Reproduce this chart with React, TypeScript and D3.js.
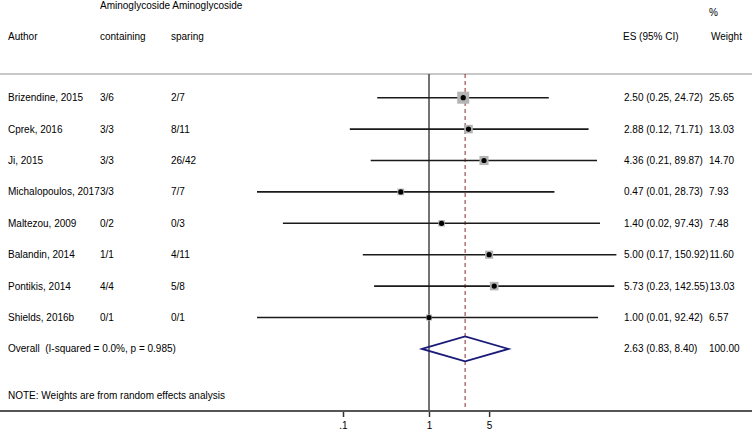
import React, { useEffect, useRef } from "react"
import * as d3 from "d3"

const authors = [
  "Brizendine, 2015",
  "Cprek, 2016",
  "Ji, 2015",
  "Michalopoulos, 2017",
  "Maltezou, 2009",
  "Balandin, 2014",
  "Pontikis, 2014",
  "Shields, 2016b",
]
const containing = ["3/6", "3/3", "3/3", "3/3", "0/2", "1/1", "4/4", "0/1"]
const sparing = ["2/7", "8/11", "26/42", "7/7", "0/3", "4/11", "5/8", "0/1"]
const es = [2.5, 2.88, 4.36, 0.47, 1.4, 5.0, 5.73, 1.0]
const lower = [0.25, 0.12, 0.21, 0.01, 0.02, 0.17, 0.23, 0.01]
const upper = [24.72, 71.71, 89.87, 28.73, 97.43, 150.92, 142.55, 92.42]
const weights = [25.65, 13.03, 14.7, 7.93, 7.48, 11.6, 13.03, 6.57]

const overall = { es: 2.63, lower: 0.83, upper: 8.4, weight: 100 }
const overallLabel = "Overall  (I-squared = 0.0%, p = 0.985)"
const note = "NOTE: Weights are from random effects analysis"

const tickValues = [0.1, 1, 5]
const tickLabels = [".1", "1", "5"]

const W = 753
const H = 432

const Chart = () => {
  const ref = useRef<SVGSVGElement>(null)

  useEffect(() => {
    const svg = d3.select(ref.current)
    svg.selectAll("*").remove()

    const font = "'Liberation Sans', Arial, sans-serif"
    const fs = 10
    const f2 = d3.format(".2f")

    // log scale for effect sizes
    const x = d3.scaleLog().domain([0.1, 10]).range([343, 515])

    const rowY = d3
      .scaleLinear()
      .domain([0, 1])
      .range([97.7, 97.7 + 31.4])

    const axisY = 411
    const topY = 74

    const colAuthor = 8
    const colCont = 100
    const colSpar = 171
    const colES = 624
    const colW = 709

    const text = (
      g: d3.Selection<any, any, any, any>,
      tx: number,
      ty: number,
      s: string
    ) =>
      g
        .append("text")
        .attr("x", tx)
        .attr("y", ty)
        .attr("dy", "0.35em")
        .attr("font-family", font)
        .attr("font-size", fs)
        .attr("fill", "#000")
        .style("white-space", "pre")
        .text(s)

    // header
    text(svg, colCont, 5, "Aminoglycoside Aminoglycoside")
    text(svg, colW, 12, "%")
    text(svg, colAuthor, 36, "Author")
    text(svg, colCont, 36, "containing")
    text(svg, colSpar, 36, "sparing")
    text(svg, colES - 1, 36, "ES (95% CI)")
    text(svg, colW + 2, 36, "Weight")

    // top rule
    svg
      .append("line")
      .attr("x1", 0)
      .attr("x2", 752)
      .attr("y1", topY)
      .attr("y2", topY)
      .attr("stroke", "#c8c8c8")
      .attr("stroke-width", 2)

    // null line
    svg
      .append("line")
      .attr("x1", x(1))
      .attr("x2", x(1))
      .attr("y1", topY)
      .attr("y2", axisY)
      .attr("stroke", "#444")
      .attr("stroke-width", 1.5)

    // overall dashed line
    svg
      .append("line")
      .attr("x1", x(overall.es))
      .attr("x2", x(overall.es))
      .attr("y1", topY)
      .attr("y2", axisY)
      .attr("stroke", "#8b2a2a")
      .attr("stroke-width", 1)
      .attr("stroke-dasharray", "4,3")

    const rows = svg
      .selectAll("g.row")
      .data(authors)
      .enter()
      .append("g")
      .attr("class", "row")

    rows.each(function (d, i) {
      const g = d3.select(this)
      const y = rowY(i)
      g.append("line")
        .attr("x1", x(lower[i]))
        .attr("x2", x(upper[i]))
        .attr("y1", y)
        .attr("y2", y)
        .attr("stroke", "#1a1a1a")
        .attr("stroke-width", 1.6)
      const side = 2.37 * Math.sqrt(weights[i])
      g.append("rect")
        .attr("x", x(es[i]) - side / 2)
        .attr("y", y - side / 2)
        .attr("width", side)
        .attr("height", side)
        .attr("fill", "#b4b4b4")
      g.append("circle")
        .attr("cx", x(es[i]))
        .attr("cy", y)
        .attr("r", 2.6)
        .attr("fill", "#000")

      text(g, colAuthor, y, d)
      text(g, colCont, y, containing[i])
      text(g, colSpar, y, sparing[i])
      const t = text(g, colES, y, `${f2(es[i])} (${f2(lower[i])}, ${f2(upper[i])})`)
      const end = colES + (t.node() as SVGTextElement).getComputedTextLength()
      text(g, Math.max(colW, end + 1), y, f2(weights[i]))
    })

    // overall diamond
    const oy = rowY(authors.length)
    const dh = 12.5
    svg
      .append("path")
      .attr(
        "d",
        `M${x(overall.lower)},${oy}L${x(overall.es)},${oy - dh}L${x(overall.upper)},${oy}L${x(overall.es)},${oy + dh}Z`
      )
      .attr("fill", "none")
      .attr("stroke", "#1a1a78")
      .attr("stroke-width", 1.8)
    text(svg, colAuthor, oy, overallLabel)
    text(svg, colES, oy, `${f2(overall.es)} (${f2(overall.lower)}, ${f2(overall.upper)})`)
    text(svg, colW, oy, f2(overall.weight))

    text(svg, colAuthor, rowY(authors.length + 1.5) - 1, note)

    // axis
    const axis = d3
      .axisBottom(x)
      .tickValues(tickValues)
      .tickFormat((d, i) => tickLabels[i])
      .tickSize(6)
    const ag = svg.append("g").attr("transform", `translate(0,${axisY})`).call(axis)
    ag.select(".domain").remove()
    ag.selectAll(".tick line").attr("stroke", "#333").attr("stroke-width", 1.5)
    ag.selectAll(".tick text")
      .attr("font-family", font)
      .attr("font-size", fs)
      .attr("fill", "#000")
      .attr("y", 11)
    svg
      .append("line")
      .attr("x1", 0)
      .attr("x2", 752)
      .attr("y1", axisY)
      .attr("y2", axisY)
      .attr("stroke", "#555")
      .attr("stroke-width", 2)
  }, [])

  return (
    <svg
      ref={ref}
      width={W}
      height={H}
      style={{ position: "absolute", left: 0, top: 0, background: "#fff" }}
    />
  )
}

export default function App() {
  return <Chart />
}
